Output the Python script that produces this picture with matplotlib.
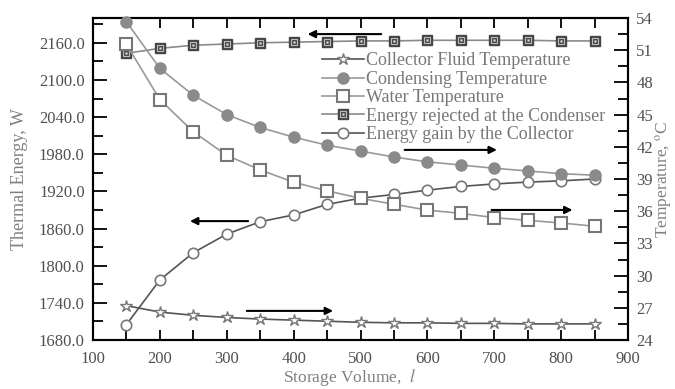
import matplotlib
matplotlib.use("Agg")
import matplotlib.pyplot as plt
from matplotlib.ticker import MultipleLocator, FormatStrFormatter
from matplotlib.legend_handler import HandlerTuple

plt.rcParams['font.family'] = ['Liberation Serif', 'DejaVu Serif']
plt.rcParams['mathtext.fontset'] = 'stix'

volume = [150, 200, 250, 300, 350, 400, 450, 500, 550, 600, 650, 700, 750, 800, 850]
collector_fluid_temp = [27.2, 26.6, 26.3, 26.1, 25.95, 25.85, 25.75, 25.65, 25.6, 25.6, 25.55, 25.55, 25.5, 25.5, 25.5]
condensing_temp = [53.65, 49.3, 46.8, 45.0, 43.8, 42.9, 42.15, 41.6, 41.05, 40.6, 40.3, 40.0, 39.75, 39.5, 39.35]
water_temp = [51.55, 46.4, 43.4, 41.2, 39.85, 38.7, 37.9, 37.2, 36.65, 36.1, 35.8, 35.4, 35.15, 34.9, 34.6]
energy_rejected = [2143, 2151, 2156, 2158, 2160, 2161, 2162, 2163, 2163, 2164, 2164, 2164, 2164, 2163, 2163]
energy_gain = [1705, 1777, 1821, 1851, 1871, 1882, 1899, 1909, 1915, 1922, 1928, 1932, 1935, 1937, 1940]

labels = ["Collector Fluid Temperature", "Condensing Temperature", "Water Temperature",
          "Energy rejected at the Condenser", "Energy gain by the Collector"]

fig = plt.figure(figsize=(6.75, 3.89), dpi=100)
ax = fig.add_axes([93/675, 1-340/389, 535/675, 322/389])
ax2 = ax.twinx()

tick_col = '#505050'
lab_col = '#808080'

# left axis series
l_rej_outer, = ax.plot(volume, energy_rejected, '-', color='#8a8a8a', lw=1.2, marker='s', ms=7.5,
                       mfc='#454545', mec='#454545', clip_on=False, zorder=3)
l_rej_inner, = ax.plot(volume, energy_rejected, linestyle='none', marker='s', ms=4.2,
                       mfc='#454545', mec='#bdbdbd', mew=0.8, clip_on=False, zorder=4)
l_rej_dot, = ax.plot(volume, energy_rejected, linestyle='none', marker='s', ms=1.2,
                     mfc='#dddddd', mec='#dddddd', mew=0.3, clip_on=False, zorder=5)
l_gain, = ax.plot(volume, energy_gain, '-', color='#555555', lw=1.2, marker='o', ms=7.5,
                  mfc='white', mec='#777777', mew=1.2, clip_on=False, zorder=3)

# right axis series
l_cf, = ax2.plot(volume, collector_fluid_temp, '-', color='#555555', lw=1.2, marker='*', ms=9,
                 mfc='white', mec='#777777', mew=1.0, clip_on=False, zorder=3)
l_cond, = ax2.plot(volume, condensing_temp, '-', color='#999999', lw=1.2, marker='o', ms=8,
                   mfc='#8a8a8a', mec='#8a8a8a', clip_on=False, zorder=3)
l_water, = ax2.plot(volume, water_temp, '-', color='#999999', lw=1.2, marker='s', ms=8,
                    mfc='white', mec='#777777', mew=1.5, clip_on=False, zorder=3)

ax.set_xlim(100, 900)
ax.set_ylim(1680, 2200)
ax2.set_ylim(24, 54)

ax.xaxis.set_major_locator(MultipleLocator(100))
ax.xaxis.set_minor_locator(MultipleLocator(50))
ax.yaxis.set_major_locator(MultipleLocator(60))
ax.yaxis.set_minor_locator(MultipleLocator(30))
ax.yaxis.set_major_formatter(FormatStrFormatter('%.1f'))
ax2.yaxis.set_major_locator(MultipleLocator(3))
ax2.yaxis.set_minor_locator(MultipleLocator(1.5))

ax.tick_params(axis='x', which='both', direction='in', top=True, length=7, width=1.3,
               labelsize=12, labelcolor=tick_col, pad=8)
ax.tick_params(axis='y', which='major', direction='in', length=10, width=1.3,
               labelsize=12, labelcolor=tick_col, pad=6)
ax.tick_params(axis='y', which='minor', direction='in', length=7, width=1.3)
ax2.tick_params(axis='y', which='major', direction='in', length=10, width=1.3,
                labelsize=12, labelcolor=tick_col, pad=6)
ax2.tick_params(axis='y', which='minor', direction='in', length=7, width=1.3)

for a in (ax, ax2):
    for s in a.spines.values():
        s.set_linewidth(1.5)

ax.set_xlabel("Storage Volume,  $\\mathit{l}$", fontsize=12.5, color=lab_col)
ax.xaxis.set_label_coords(0.48, -0.084)
ax.set_ylabel("Thermal Energy, W", fontsize=13, color=lab_col)
ax.yaxis.set_label_coords(-0.122, 0.5)
ax2.set_ylabel("Temperature, $^{\\mathrm{o}}$C", fontsize=12.5, color=lab_col)
ax2.yaxis.set_label_coords(1.048, 0.5)

# arrows (left axis data units)
arrows = [((531, 2174), (421, 2174)),
          ((566, 1987), (704, 1987)),
          ((332, 1872), (245, 1872)),
          ((696, 1890), (817, 1890)),
          ((330, 1727), (459, 1727))]
for start, end in arrows:
    ax2.annotate('', xy=end, xytext=start, xycoords=ax.transData, textcoords=ax.transData,
                 arrowprops=dict(arrowstyle='-|>', color='black', lw=1.5, mutation_scale=11,
                                 shrinkA=0, shrinkB=0), zorder=6)

handles = [l_cf, l_cond, l_water, (l_rej_outer, l_rej_inner, l_rej_dot), l_gain]
leg = ax2.legend(handles, labels, loc='upper left', bbox_to_anchor=(0.428, 0.893),
                 frameon=False, fontsize=13, handlelength=2.3, handletextpad=0.15,
                 labelspacing=0.08, borderpad=0, borderaxespad=0,
                 handler_map={tuple: HandlerTuple(ndivide=1, pad=0)})
for t in leg.get_texts():
    t.set_color('#777777')

fig.savefig('out.png', dpi=100)
